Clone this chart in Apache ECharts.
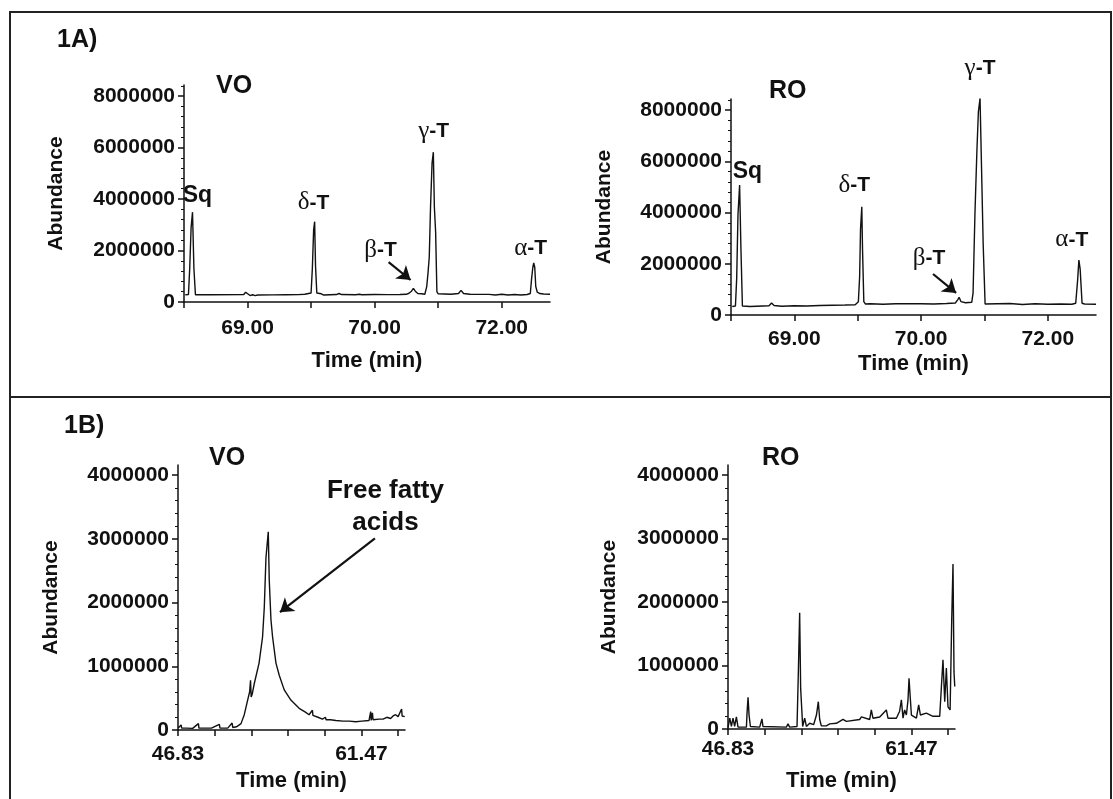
<!DOCTYPE html>
<html>
<head>
<meta charset="utf-8">
<script src="https://cdn.jsdelivr.net/npm/echarts@6/dist/echarts.min.js"></script>
<style>
  html, body { margin: 0; padding: 0; background: #fff; }
  #chart { width: 1113px; height: 799px; }
</style>
</head>
<body>
<div id="chart"></div>
<script>
// ---- 1A: tocopherol window, [time (min), abundance] ----
const voTocopherols = [
  [68.51, 280000], [68.535, 290000], [68.545, 1300000], [68.556, 2900000], [68.567, 3490000],
  [68.578, 1300000], [68.59, 280000], [68.7, 280000], [68.97, 290000], [68.985, 380000],
  [69.0, 320000], [69.02, 250000], [69.04, 280000], [69.06, 250000], [69.08, 270000],
  [69.2, 275000], [69.3, 280000], [69.4, 285000], [69.45, 300000], [69.48, 330000],
  [69.5, 350000], [69.51, 1300000], [69.52, 2800000], [69.528, 3120000], [69.535, 1400000],
  [69.545, 350000], [69.56, 280000], [69.58, 320000], [69.6, 270000], [69.7, 290000],
  [69.72, 330000], [69.74, 290000], [69.85, 280000], [69.88, 300000], [69.9, 280000],
  [70.0, 290000], [70.1, 285000], [70.2, 290000], [70.25, 300000], [70.27, 340000],
  [70.29, 420000], [70.305, 530000], [70.32, 420000], [70.34, 330000], [70.37, 320000],
  [70.395, 300000], [70.41, 600000], [70.42, 1120000], [70.43, 1750000], [70.44, 3700000],
  [70.452, 5400000], [70.462, 5820000], [70.47, 3700000], [70.48, 2720000], [70.49, 400000],
  [70.5, 320000], [70.6, 300000], [70.66, 330000], [70.68, 450000], [70.7, 330000],
  [70.75, 300000], [70.9, 295000], [70.95, 270000], [71.0, 300000], [71.05, 270000],
  [71.1, 290000], [71.15, 270000], [71.2, 290000], [71.225, 330000], [71.235, 900000],
  [71.245, 1350000], [71.252, 1520000], [71.26, 1350000], [71.268, 600000], [71.28, 380000],
  [71.3, 330000], [71.33, 310000], [71.38, 300000]
];
const roTocopherols = [
  [68.51, 330000], [68.535, 350000], [68.545, 1440000], [68.555, 3900000], [68.568, 5070000],
  [68.578, 2660000], [68.59, 350000], [68.65, 330000], [68.7, 340000], [68.8, 360000],
  [68.82, 470000], [68.84, 370000], [68.9, 340000], [69.0, 360000], [69.1, 350000],
  [69.2, 370000], [69.3, 380000], [69.4, 390000], [69.48, 400000], [69.505, 520000],
  [69.515, 1500000], [69.522, 3350000], [69.532, 4220000], [69.538, 2530000], [69.548, 520000],
  [69.56, 430000], [69.6, 440000], [69.7, 420000], [69.8, 440000], [70.0, 440000],
  [70.1, 430000], [70.2, 450000], [70.27, 470000], [70.29, 600000], [70.3, 690000],
  [70.315, 520000], [70.35, 480000], [70.4, 500000], [70.41, 860000], [70.425, 3980000],
  [70.44, 6370000], [70.452, 7930000], [70.465, 8460000], [70.49, 2730000], [70.505, 430000],
  [70.52, 430000], [70.6, 440000], [70.7, 450000], [70.8, 410000], [70.9, 440000],
  [71.0, 420000], [71.1, 430000], [71.19, 420000], [71.22, 460000], [71.235, 1360000],
  [71.245, 2140000], [71.255, 1790000], [71.27, 460000], [71.29, 430000], [71.38, 420000]
];

// ---- 1B: free fatty acid window, [time (min), abundance] ----
const voFattyAcids = [
  [46.85, 30000], [47.0, 30000], [47.08, 80000], [47.12, 30000], [47.5, 30000],
  [48.0, 25000], [48.46, 100000], [48.5, 30000], [49.0, 30000], [49.5, 30000],
  [50.13, 90000], [50.18, 30000], [50.8, 30000], [51.15, 110000], [51.2, 40000],
  [51.5, 50000], [51.86, 100000], [52.12, 240000], [52.39, 470000], [52.55, 600000],
  [52.62, 780000], [52.67, 520000], [52.75, 560000], [52.92, 730000], [53.3, 1050000],
  [53.58, 1460000], [53.72, 1930000], [53.85, 2700000], [54.035, 3110000], [54.115, 2350000],
  [54.25, 1730000], [54.38, 1460000], [54.65, 1050000], [54.91, 860000], [55.31, 630000],
  [55.84, 470000], [56.5, 340000], [57.0, 280000], [57.29, 240000], [57.56, 310000],
  [57.6, 230000], [58.0, 200000], [58.36, 170000], [58.6, 200000], [58.65, 160000],
  [59.0, 160000], [59.43, 150000], [60.0, 140000], [60.5, 140000], [61.02, 130000],
  [61.5, 140000], [62.08, 150000], [62.21, 290000], [62.25, 150000], [62.35, 270000],
  [62.4, 160000], [62.87, 170000], [63.2, 170000], [63.5, 200000], [63.8, 180000],
  [64.0, 220000], [64.2, 240000], [64.4, 210000], [64.68, 330000], [64.72, 220000],
  [64.93, 210000]
];
const roFattyAcids = [
  [46.83, 20000], [46.97, 170000], [47.1, 40000], [47.23, 170000], [47.36, 40000],
  [47.5, 190000], [47.63, 30000], [48.3, 30000], [48.35, 250000], [48.43, 500000],
  [48.51, 220000], [48.62, 40000], [49.36, 30000], [49.54, 160000], [49.62, 40000],
  [51.49, 30000], [51.62, 80000], [51.75, 30000], [52.34, 40000], [52.45, 930000],
  [52.55, 1830000], [52.63, 640000], [52.74, 640000], [52.79, 40000], [52.95, 170000],
  [53.09, 40000], [53.35, 90000], [53.67, 70000], [53.89, 220000], [54.04, 430000],
  [54.15, 150000], [54.28, 50000], [54.68, 50000], [54.95, 80000], [55.48, 90000],
  [56.01, 150000], [56.14, 170000], [56.28, 120000], [57.34, 150000], [57.48, 190000],
  [58.14, 150000], [58.27, 300000], [58.4, 170000], [58.94, 190000], [59.47, 300000],
  [59.6, 170000], [60.27, 170000], [60.53, 280000], [60.67, 460000], [60.8, 170000],
  [60.93, 300000], [61.07, 220000], [61.2, 460000], [61.28, 800000], [61.39, 460000],
  [61.47, 220000], [61.87, 170000], [62.05, 380000], [62.19, 220000], [62.66, 250000],
  [63.19, 200000], [63.73, 200000], [63.86, 650000], [63.99, 1090000], [64.13, 430000],
  [64.26, 960000], [64.39, 350000], [64.56, 300000], [64.69, 1740000], [64.79, 2600000],
  [64.87, 900000], [64.93, 670000]
];

// ---- axis ticks and labels ----
const abundanceTicksA = [0, 2000000, 4000000, 6000000, 8000000];
const abundanceTicksB = [0, 1000000, 2000000, 3000000, 4000000];
const timeTickMarksA = [68.5, 69, 69.5, 70, 70.5, 71];
const timeLabelValuesA = [69, 70, 71];
const timeLabelTextA = ['69.00', '70.00', '72.00'];
const timeTickMarksB = [46.83, 49.758, 52.686, 55.614, 58.542, 61.47, 64.398];
const timeLabelValuesB = [46.83, 61.47];
const timeLabelTextB = ['46.83', '61.47'];

// ---- peak annotations ----
const peakNames = ['Sq', 'δ-T', 'β-T', 'γ-T', 'α-T'];
const voPeakArrow = [[70.11, 1550000], [70.283, 855000]];
const roPeakArrow = [[70.094, 1600000], [70.276, 860000]];
const fattyAcidArrow = [[62.55, 3010000], [54.97, 1850000]];

const SANS = '"Liberation Sans", Arial, Helvetica, sans-serif';
const SERIF = '"Liberation Serif", "Times New Roman", serif';
const INK = '#111';

const chart = echarts.init(document.getElementById('chart'), null, { renderer: 'canvas' });

const grids = [
  { left: 184, top: 85, width: 366, height: 217 },
  { left: 731, top: 99, width: 365, height: 216 },
  { left: 178, top: 465, width: 227, height: 265 },
  { left: 728, top: 465, width: 227, height: 264 }
];

function pickLabel(values, texts) {
  return function (v) {
    const i = values.findIndex(x => Math.abs(x - v) < 1e-6);
    return i >= 0 ? texts[i] : '';
  };
}

function yAxis(gridIndex, max, ticks, nameGap) {
  return {
    type: 'value', gridIndex, min: 0, max,
    name: 'Abundance', nameLocation: 'middle', nameGap,
    nameTextStyle: { fontFamily: SANS, fontWeight: 'bold', fontSize: 21, color: INK },
    axisLine: { show: true, onZero: false, lineStyle: { color: INK, width: 1.5 } },
    axisTick: { show: true, length: 6, customValues: ticks, lineStyle: { color: INK, width: 1.5 } },
    minorTick: { show: true, splitNumber: 5, length: 3, lineStyle: { color: INK, width: 1 } },
    axisLabel: {
      customValues: ticks, margin: 9, formatter: v => String(v),
      fontFamily: SANS, fontWeight: 'bold', fontSize: 21, color: INK
    },
    splitLine: { show: false }, minorSplitLine: { show: false }
  };
}

function xAxis(gridIndex, min, max, tickMarks, labelValues, labelTexts, margin, nameGap) {
  return {
    type: 'value', gridIndex, min, max,
    name: 'Time (min)', nameLocation: 'middle', nameGap,
    nameTextStyle: { fontFamily: SANS, fontWeight: 'bold', fontSize: 22, color: INK },
    axisLine: { show: true, onZero: false, lineStyle: { color: INK, width: 1.5 } },
    axisTick: { show: true, length: 6, customValues: tickMarks, lineStyle: { color: INK, width: 1.5 } },
    axisLabel: {
      customValues: labelValues, margin, formatter: pickLabel(labelValues, labelTexts),
      fontFamily: SANS, fontWeight: 'bold', fontSize: 21, color: INK
    },
    splitLine: { show: false }
  };
}

function arrowLine(points) {
  return {
    silent: true, animation: false,
    symbol: ['none', 'arrow'], symbolSize: 13,
    label: { show: false },
    itemStyle: { color: INK },
    lineStyle: { color: INK, width: 2.2, type: 'solid', opacity: 1 },
    emphasis: { disabled: true },
    data: [[{ coord: points[0] }, { coord: points[1] }]]
  };
}

function trace(idx, data, arrow) {
  const s = {
    type: 'line', xAxisIndex: idx, yAxisIndex: idx, data,
    showSymbol: false, symbol: 'none', smooth: false,
    lineStyle: { color: INK, width: 1.4 },
    itemStyle: { color: INK },
    animation: false, silent: true
  };
  if (arrow) s.markLine = arrowLine(arrow);
  return s;
}

function panelTitle(text, left, top, size) {
  return {
    text, left, top, padding: 0,
    textStyle: { fontFamily: SANS, fontWeight: 'bold', fontSize: size, color: INK }
  };
}

chart.setOption({
  backgroundColor: '#fff',
  animation: false,
  title: [
    panelTitle('1A)', 57, 28, 25),
    panelTitle('VO', 216, 74, 25),
    panelTitle('RO', 769, 79, 25),
    panelTitle('1B)', 64, 414, 25),
    panelTitle('VO', 209, 446, 25),
    panelTitle('RO', 762, 446, 25)
  ],
  grid: grids,
  xAxis: [
    xAxis(0, 68.5, 71.38, timeTickMarksA, timeLabelValuesA, timeLabelTextA, 16, 48),
    xAxis(1, 68.5, 71.38, timeTickMarksA, timeLabelValuesA, timeLabelTextA, 14, 38),
    xAxis(2, 46.83, 64.95, timeTickMarksB, timeLabelValuesB, timeLabelTextB, 14, 40),
    xAxis(3, 46.83, 64.95, timeTickMarksB, timeLabelValuesB, timeLabelTextB, 10, 41)
  ],
  yAxis: [
    yAxis(0, 8430000, abundanceTicksA, 117),
    yAxis(1, 8430000, abundanceTicksA, 116),
    yAxis(2, 4160000, abundanceTicksB, 116),
    yAxis(3, 4160000, abundanceTicksB, 108)
  ],
  series: [
    trace(0, voTocopherols, voPeakArrow),
    trace(1, roTocopherols, roPeakArrow),
    trace(2, voFattyAcids, fattyAcidArrow),
    trace(3, roFattyAcids, null)
  ]
});

// Peak names placed in data space of each panel
const peakSpots = [
  { grid: 0, at: [[68.606, 4120000], [69.52, 3850000], [70.047, 2020000], [70.465, 6640000], [71.228, 2100000]] },
  { grid: 1, at: [[68.63, 5580000], [69.472, 5070000], [70.063, 2220000], [70.465, 9640000], [71.189, 2930000]] }
];

function peakText(name) {
  if (name === 'Sq') return '{s|Sq}';
  return '{g|' + name.charAt(0) + '}{b|' + name.slice(1) + '}';
}

const graphics = [
  {
    type: 'rect', silent: true, z: 100,
    shape: { x: 10, y: 12, width: 1101, height: 800 },
    style: { fill: 'none', stroke: '#222', lineWidth: 2 }
  },
  {
    type: 'line', silent: true, z: 100,
    shape: { x1: 10, y1: 397, x2: 1111, y2: 397 },
    style: { stroke: '#222', lineWidth: 2 }
  }
];

peakSpots.forEach(panel => {
  panel.at.forEach((coord, i) => {
    const p = chart.convertToPixel({ gridIndex: panel.grid }, coord);
    graphics.push({
      type: 'text', silent: true, z: 50, x: p[0], y: p[1],
      style: {
        text: peakText(peakNames[i]),
        align: 'center', verticalAlign: 'middle',
        rich: {
          s: { fontFamily: SANS, fontWeight: 'bold', fontSize: 23, fill: INK, color: INK },
          g: { fontFamily: SERIF, fontWeight: 'normal', fontSize: 25, fill: INK, color: INK },
          b: { fontFamily: SANS, fontWeight: 'bold', fontSize: 21, fill: INK, color: INK }
        }
      }
    });
  });
});

const ffaPos = chart.convertToPixel({ gridIndex: 2 }, [63.39, 3500000]);
graphics.push({
  type: 'text', silent: true, z: 50, x: ffaPos[0], y: ffaPos[1],
  style: {
    text: 'Free fatty\nacids', align: 'center', verticalAlign: 'middle',
    fontFamily: SANS, fontWeight: 'bold', fontSize: 26, lineHeight: 32, fill: INK
  }
});

chart.setOption({ graphic: graphics });
</script>
</body>
</html>
